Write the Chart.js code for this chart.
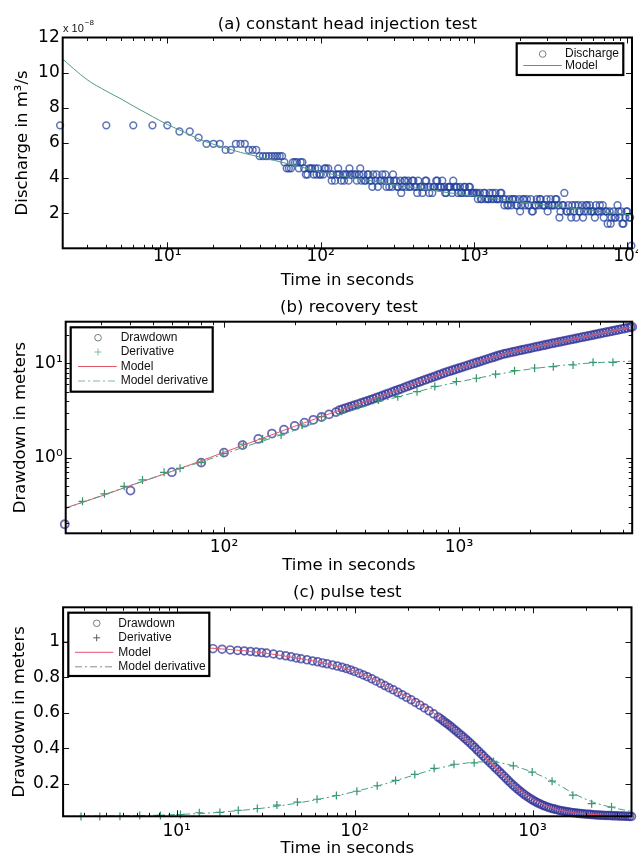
<!DOCTYPE html>
<html><head><meta charset="utf-8">
<script src="https://cdn.jsdelivr.net/npm/chart.js@4.4.0/dist/chart.umd.min.js"></script>
<style>
html,body{margin:0;padding:0;background:#fff;overflow:hidden;width:638px;height:858px}
canvas{position:absolute;left:0}
</style></head><body>
<canvas id="ca" width="638" height="292" style="top:0px"></canvas>
<canvas id="cb" width="638" height="283" style="top:292px"></canvas>
<canvas id="cc" width="638" height="283" style="top:575px"></canvas>
<script>
// ---------------- (a) constant head injection test ----------------
const aTime = [2,4,6,8,10,12,14,16,18,20,22,24,26,28,30,32,34,36,38,40,42,44,46,48,50,52,54,56,58,60,
 62,64,66,68,70,72,74,76,78,80,82,84,86,88,90,92,94,96,98,100,
 104,108,112,116,120,124,128,132,136,140,144,148,152,156,160,
 166,172,178,184,190,196,202,208,214,220,228,236,244,252,260,268,276,284,292,300,
 310,320,330,340,350,360,372,384,396,408,420,432,446,460,474,488,502,518,534,550,566,584,602,620,638,658,678,698,720,742,764,786,810,834,860,886,912,940,968,998,
 1028,1058,1090,1122,1156,1190,1226,1262,1300,1340,1380,1420,1462,1506,1552,
 1598,1646,1696,1746,1798,1852,1908,1966,2024,2084,2148,2212,2278,2346,2416,2488,2564,2640,2720,2800,2884,2970,3060,3152,3246,3344,3444,
 3548,3654,3764,3876,3992,4112,4236,4362,4494,4628,4766,4910,5056,5208,5364,5526,5692,5862,6038,6220,6406,6598,6796,
 7000,7210,7426,7650,7878,8114,8358,8610,8868,9134,9408,9690,9980,10290,10600];
const aDischarge = [7.0,7.0,7.0,7.0,7.0,6.65,6.65,6.3,5.95,5.95,5.95,5.6,5.6,5.95,5.95,5.95,5.6,5.6,5.6,5.25,5.25,5.25,5.25,5.25,5.25,5.25,5.25,5.25,4.9,4.55,
 4.55,4.55,4.9,4.9,4.9,4.55,4.9,4.9,4.55,4.2,4.2,4.55,4.55,4.55,4.2,4.55,4.2,4.55,4.2,4.2,
 4.2,4.55,4.55,4.2,4.2,3.85,4.2,4.2,3.85,4.2,4.2,4.2,3.85,4.2,4.2,
 4.2,3.85,4.2,3.85,4.2,3.85,4.2,3.85,3.85,4.2,3.85,3.5,3.85,4.2,3.85,3.5,3.85,3.85,3.5,3.85,
 3.85,3.5,3.85,3.5,3.85,3.5,3.85,3.5,3.85,3.5,3.5,3.85,3.5,3.15,3.5,3.85,3.5,3.5,3.15,3.5,3.85,3.5,3.5,3.85,3.5,3.15,3.5,3.5,3.15,3.5,3.5,3.15,3.5,3.15,3.5,3.15,3.15,3.5,3.15,3.15,
 3.15,2.8,3.15,2.8,3.15,2.8,2.8,3.15,2.8,2.8,3.15,2.8,2.8,3.15,2.8,
 2.8,2.45,2.8,2.45,2.8,2.8,2.45,2.8,2.45,2.8,2.45,2.8,2.45,2.8,2.1,2.45,2.8,2.45,2.8,2.45,2.45,2.8,2.45,2.8,2.45,2.45,2.8,
 2.45,2.1,2.45,3.15,2.1,2.45,2.1,2.45,2.1,1.75,2.45,2.1,2.45,2.1,2.45,2.1,2.45,2.1,2.1,2.45,2.1,2.45,2.1,
 1.75,2.1,1.4,2.1,1.75,2.1,1.75,2.45,1.75,2.1,1.4,1.75,2.1,1.75,0.15];
// further discharge samples lying between the ones above (t > 100 s)
const aTimeMore = [106,118,130,142,154,
 169,181,193,205,217,232,248,264,280,296,
 315,335,355,378,402,426,453,481,510,542,575,611,648,688,731,775,822,873,926,983,
 1043,1106,1173,1243,1320,1400,1484,1575,
 1671,1772,1880,1995,2116,2245,2381,2526,2680,2842,3015,3199,3394,
 3600,3820,4052,4298,4560,4838,5132,5445,5777,6128,6502,6898,
 7318,7764,8236,8738,9270,9834,10400];
const aDischargeMore = [4.55,3.85,4.55,3.85,4.55,
 4.2,4.55,3.85,4.2,3.5,4.2,3.85,4.2,3.5,4.2,
 3.5,3.15,3.85,3.5,3.85,3.15,3.5,3.85,3.15,3.5,3.85,3.5,3.15,3.5,3.85,3.5,3.15,3.5,3.5,3.15,
 3.15,2.8,3.15,2.8,3.15,2.8,3.15,2.45,
 2.45,2.8,2.45,2.1,2.8,2.45,2.1,2.45,2.8,2.45,2.1,2.45,2.8,
 1.75,2.45,2.1,1.75,2.45,2.1,1.75,2.45,2.1,1.75,2.1,2.45,
 2.1,1.4,1.75,2.1,1.4,2.1,1.75];
const aModelTime = [2,3,4,5,6,8,10,13,16,20,25,30,40,50,60,80,100,150,200,300,500,700,1000,1500,2000,3000,5000,7000,10700];
const aModel = [10.9,9.6,8.95,8.5,8.1,7.5,7.05,6.6,6.22,5.92,5.66,5.46,5.2,5.0,4.83,4.56,4.35,4.06,3.88,3.62,3.33,3.15,2.98,2.78,2.64,2.45,2.22,2.07,1.9];
const aXTickVals = [10,100,1000,10000];
const aXTickText = ['10\u00B9','10\u00B2','10\u00B3','10\u2074'];
const aYTickVals = [2,4,6,8,10,12];
const aYTickText = ['2','4','6','8','10','12'];

// ---------------- (b) recovery test ----------------
const bDrawTime = [21,40,60,80,100,120,140,160,180,200,220,240,260,280,
 300,310,320,330,340,350,360,372,384,396,408,420,432,446,460,474,488,502,518,534,
 550,566,584,602,620,638,658,678,698,720,742,764,786,810,834,860,886,912,940,968,
 998,1028,1058,1090,1122,1156,1190,1226,1262,1300,1340,1380,1420,1462,1506,1552,1598,1646,1696,1746,
 1798,1852,1908,1966,2024,2084,2148,2212,2278,2346,2416,2488,2564,2640,2720,2800,2884,2970,3060,3152,
 3246,3344,3444,3548,3654,3764,3876,3992,4112,4236,4362,4494,4628,4766,4910,5056,5208,5364,5460];
const bDraw = [0.196,0.446,0.70,0.885,1.13,1.36,1.58,1.8,1.98,2.17,2.35,2.52,2.7,2.88,
 3.05,3.19,3.27,3.36,3.44,3.53,3.61,3.71,3.81,3.91,4.01,4.11,4.21,4.33,4.44,4.57,4.69,4.82,4.96,5.10,
 5.24,5.38,5.54,5.70,5.86,6.02,6.19,6.37,6.54,6.73,6.91,7.09,7.27,7.47,7.67,7.88,8.09,8.28,8.48,8.69,
 8.90,9.11,9.33,9.55,9.78,10.01,10.25,10.49,10.74,11.0,11.27,11.53,11.80,12.08,12.37,12.63,12.84,13.05,13.26,13.47,
 13.69,13.91,14.14,14.37,14.60,14.83,15.08,15.32,15.56,15.81,16.07,16.33,16.58,16.84,17.10,17.35,17.62,17.89,18.16,18.44,
 18.73,19.02,19.31,19.60,19.90,20.21,20.52,20.83,21.15,21.48,21.80,22.14,22.48,22.82,23.18,23.53,23.89,24.25,24.48];
const bDerivTime = [25,31,37.6,45,55.6,65,80,99,121,146,175,215,260,317,372,454,549,663,789,975,1186,1432,1724,2098,2520,3058,3720,4520];
const bDeriv = [0.343,0.412,0.495,0.58,0.697,0.77,0.885,1.11,1.39,1.58,1.74,2.22,2.72,3.1,3.56,4.1,4.44,5.02,5.7,6.44,6.97,7.7,8.39,8.96,9.25,9.64,10.3,10.3];
const bModelTime = [21,25,30,40,50,60,80,100,150,200,300,400,600,800,1000,1500,2000,3000,4000,5460];
const bModel = [0.29,0.335,0.39,0.505,0.61,0.715,0.925,1.14,1.65,2.15,3.1,3.95,5.68,7.39,8.94,12.3,14.6,17.97,20.85,24.48];
const bModelDerivTime = [21,25,31,37.6,45,55.6,65,80,99,121,146,175,215,260,317,372,454,549,663,789,975,1186,1432,1724,2098,2520,3058,3720,4520,5460];
const bModelDeriv = [0.285,0.335,0.405,0.48,0.56,0.67,0.765,0.9,1.08,1.29,1.5,1.74,2.08,2.47,2.93,3.32,3.88,4.42,5.0,5.6,6.3,6.95,7.6,8.25,8.85,9.35,9.8,10.15,10.4,10.6];
const bXTickVals = [100,1000];
const bXTickText = ['10\u00B2','10\u00B3'];
const bYTickVals = [1,10];
const bYTickText = ['10\u2070','10\u00B9'];

// ---------------- (c) pulse test ----------------
const cDrawTime = [2,4,6,8,10,12,14,16,18,20,22,24,26,28,30,32,35,38,41,44,47,50,54,58,62,66,70,75,80,85,
 90,95,100,106,112,118,125,132,140,148,156,165,175,185,196,208,220,233,247,262,278,295,313,332,352,373,396,420,445,472,
 500,530,562,596,632,670,710,752,797,845,896,950,1007,1067,1131,1199,1271,1347,1428,1514,
 1605,1700,1800,1910,2025,2145,2275,2410,2555,2710,2870,3040,3225,3420,3600];
const cDraw = [1.0,0.99,0.985,0.98,0.975,0.97,0.965,0.96,0.957,0.953,0.95,0.947,0.944,0.941,0.938,0.935,0.93,0.925,0.92,0.914,0.908,0.903,0.897,0.891,0.886,0.88,0.875,0.868,0.862,0.855,
 0.848,0.84,0.832,0.822,0.812,0.802,0.79,0.778,0.765,0.752,0.74,0.728,0.714,0.70,0.686,0.672,0.657,0.642,0.626,0.61,0.593,0.575,0.556,0.537,0.517,0.496,0.474,0.452,0.43,0.405,
 0.38,0.355,0.33,0.305,0.28,0.255,0.23,0.205,0.182,0.16,0.14,0.122,0.106,0.092,0.08,0.07,0.062,0.055,0.049,0.044,
 0.04,0.036,0.033,0.03,0.028,0.026,0.024,0.022,0.021,0.02,0.019,0.018,0.017,0.016,0.015];
// further drawdown samples lying between the ones above (t > 300 s)
const cDrawTimeMore = [304,322,342,362,384,408,432,458,486,515,546,579,614,651,690,731,774,821,870,923,
 978,1037,1099,1165,1235,1309,1387,1471,1559,1652,1750,1855,1967,2085,2210,2342,2482,2632,2790,2955,3132,3322,3510];
const cDrawMore = [0.566,0.546,0.527,0.506,0.485,0.463,0.441,0.417,0.392,0.367,0.342,0.317,0.292,0.267,0.242,0.217,0.193,0.171,0.15,0.131,
 0.114,0.099,0.086,0.075,0.066,0.058,0.052,0.046,0.042,0.038,0.0345,0.0315,0.029,0.027,0.025,0.023,0.0215,0.0205,0.0195,0.0185,0.0175,0.0165,0.0155];
const cDerivTime = [2.9,3.7,4.8,6.2,8.1,10.5,13.4,17.5,22.2,28.4,36.6,47.7,61.5,79,103,134,170,218,280,362,470,604,780,996,1288,1685,2150,2780];
const cDeriv = [0.015,0.015,0.016,0.02,0.021,0.026,0.036,0.038,0.05,0.06,0.079,0.096,0.112,0.133,0.157,0.188,0.218,0.252,0.286,0.309,0.317,0.325,0.30,0.265,0.214,0.135,0.087,0.068];
const cModelTime = [2.2,5,10,20,30,50,70,100,130,160,200,250,300,350,400,450,500,560,620,700,800,900,1000,1200,1400,1700,2000,2500,3000,3600];
const cModel = [1.0,0.985,0.975,0.955,0.938,0.903,0.875,0.832,0.785,0.735,0.688,0.63,0.573,0.52,0.466,0.425,0.38,0.335,0.29,0.24,0.185,0.145,0.114,0.073,0.052,0.036,0.029,0.022,0.019,0.016];
const cModelDerivTime = [2.3,3,5,8,10,15,20,30,50,80,100,150,200,300,400,500,600,700,800,1000,1300,1700,2200,2800,3600];
const cModelDeriv = [0.016,0.017,0.019,0.022,0.026,0.034,0.044,0.061,0.094,0.133,0.155,0.2,0.238,0.288,0.312,0.322,0.322,0.312,0.297,0.265,0.212,0.145,0.095,0.066,0.043];
const cXTickVals = [10,100,1000];
const cXTickText = ['10\u00B9','10\u00B2','10\u00B3'];
const cYTickVals = [0.2,0.4,0.6,0.8,1];
const cYTickText = ['0.2','0.4','0.6','0.8','1'];

// ---------------- rendering ----------------
const FONT = '"DejaVu Sans", "Liberation Sans", Arial, sans-serif';
const LFONT = '"Liberation Sans", Arial, Helvetica, sans-serif';
const FS = 16.5, TS = 17;
Chart.defaults.font.family = FONT;
Chart.defaults.color = '#000';

const CIRCLE_A = 'rgba(32,62,155,0.72)';
const CIRCLE_B = 'rgba(48,48,150,0.72)';
const PLUS = '#35966a';
const RED = '#e2566c';
const GREEN_LINE = '#45a283';
const TEAL = '#4f9a88';

function pts(xs, ys) { return xs.map((x, i) => ({x: x, y: ys[i]})); }

function logMarks(min, max) {
  const out = [];
  for (let e = Math.floor(Math.log10(min)) - 1; e <= Math.ceil(Math.log10(max)); e++) {
    for (let m = 1; m <= 9; m++) {
      const v = m * Math.pow(10, e);
      if (v > min * 1.0001 && v < max * 0.9999) out.push({v: v, major: m === 1});
    }
  }
  return out;
}

const framePlugin = {
  id: 'frame',
  afterDraw(chart, args, o) {
    const ctx = chart.ctx, a = chart.chartArea, xs = chart.scales.x, ys = chart.scales.y;
    ctx.save();
    ctx.strokeStyle = '#111';
    ctx.lineWidth = 1;
    const xm = o.xLog ? logMarks(xs.min, xs.max) : o.xMarks.map(v => ({v: v, major: true}));
    const ym = o.yLog ? logMarks(ys.min, ys.max) : o.yMarks.map(v => ({v: v, major: true}));
    ctx.beginPath();
    for (const t of xm) {
      const p = Math.round(xs.getPixelForValue(t.v)) + 0.5, L = t.major ? 6 : 3.5;
      ctx.moveTo(p, a.bottom); ctx.lineTo(p, a.bottom - L);
      ctx.moveTo(p, a.top); ctx.lineTo(p, a.top + L);
    }
    for (const t of ym) {
      const p = Math.round(ys.getPixelForValue(t.v)) + 0.5, L = t.major ? 6 : 3.5;
      ctx.moveTo(a.left, p); ctx.lineTo(a.left + L, p);
      ctx.moveTo(a.right, p); ctx.lineTo(a.right - L, p);
    }
    ctx.stroke();
    ctx.lineWidth = 2;
    ctx.strokeStyle = '#000';
    ctx.strokeRect(a.left, a.top, a.right - a.left, a.bottom - a.top);
    if (o.extra) o.extra(ctx, a);
    ctx.restore();
  }
};

const boxLegendPlugin = {
  id: 'boxLegend',
  afterDraw(chart, args, o) {
    const ctx = chart.ctx;
    ctx.save();
    ctx.fillStyle = '#fff';
    ctx.fillRect(o.x, o.y, o.w, o.h);
    ctx.lineWidth = 2.2;
    ctx.strokeStyle = '#000';
    ctx.strokeRect(o.x, o.y, o.w, o.h);
    ctx.font = '12px ' + LFONT;
    ctx.textAlign = 'left';
    ctx.textBaseline = 'middle';
    for (const r of o.rows) {
      ctx.lineWidth = 1;
      ctx.strokeStyle = r.color;
      ctx.setLineDash(r.dash || []);
      ctx.beginPath();
      if (r.kind === 'circle') {
        ctx.arc(o.mx, r.y, 3.3, 0, Math.PI * 2);
      } else if (r.kind === 'plus') {
        ctx.moveTo(o.mx - 3.5, r.y); ctx.lineTo(o.mx + 3.5, r.y);
        ctx.moveTo(o.mx, r.y - 3.5); ctx.lineTo(o.mx, r.y + 3.5);
      } else {
        ctx.moveTo(o.lx1, r.y); ctx.lineTo(o.lx2, r.y);
      }
      ctx.stroke();
      ctx.setLineDash([]);
      ctx.fillStyle = '#111';
      ctx.fillText(r.label, o.tx, r.y);
    }
    ctx.restore();
  }
};

function axisFont(size) { return {size: size, family: FONT, lineHeight: 1, weight: 'normal'}; }

function makePanel(id, p) {
  const cv = document.getElementById(id);
  const W = cv.width, H = cv.height;
  const scaleCfg = (s, horizontal) => ({
    type: s.type, min: s.min, max: s.max,
    position: horizontal ? 'bottom' : 'left',
    grid: {display: false, drawTicks: false},
    border: {display: false},
    ticks: {
      font: axisFont(TS), color: '#000', padding: s.labelPad, autoSkip: false, maxRotation: 0, minRotation: 0,
      callback: (v) => { const i = s.tickVals.indexOf(v); return i >= 0 ? s.tickText[i] : ''; }
    },
    afterBuildTicks: (sc) => { sc.ticks = s.tickVals.map(v => ({value: v})); },
    afterFit: (sc) => {
      if (horizontal) { sc.height = H - p.area.b; sc.paddingLeft = 0; sc.paddingRight = 0; }
      else { sc.width = p.area.l; sc.paddingTop = 0; sc.paddingBottom = 0; }
    },
    title: {display: true, text: s.title, color: '#000', font: axisFont(FS),
      padding: horizontal ? {top: 0, bottom: s.titlePad} : {top: s.titlePad, bottom: 0}}
  });
  return new Chart(cv, {
    type: 'scatter',
    data: {datasets: p.datasets},
    options: {
      responsive: false, animation: false, devicePixelRatio: 1, events: [],
      layout: {padding: {left: 0, top: 0, bottom: 0, right: W - p.area.r}},
      scales: {x: scaleCfg(p.x, true), y: scaleCfg(p.y, false)},
      plugins: {
        legend: {display: false}, tooltip: {enabled: false},
        title: {display: true, text: p.title, color: '#000', fullSize: false, font: axisFont(FS),
          padding: {top: p.titlePad[0], bottom: p.titlePad[1]}},
        frame: p.frame,
        boxLegend: p.legend
      }
    },
    plugins: [framePlugin, boxLegendPlugin]
  });
}

function markerSet(label, data, style, color, radius, width, order) {
  return {label: label, data: data, showLine: false, pointStyle: style, pointRadius: radius,
    pointBorderWidth: width, pointBorderColor: color, pointBackgroundColor: 'rgba(0,0,0,0)', clip: false, order: order};
}
function lineSet(label, data, color, dash, order) {
  return {label: label, data: data, showLine: true, pointRadius: 0, borderColor: color, borderWidth: 1,
    borderDash: dash || [], cubicInterpolationMode: 'monotone', fill: false, order: order};
}

// panel (a)
makePanel('ca', {
  title: '(a) constant head injection test', titlePad: [16.75, 4.25],
  area: {l: 62.7, r: 632, t: 37.5, b: 248.3},
  x: {type: 'logarithmic', min: 2.08, max: 10700, tickVals: aXTickVals, tickText: aXTickText, labelPad: 0, title: 'Time in seconds', titlePad: 2.75},
  y: {type: 'linear', min: 0, max: 12, tickVals: aYTickVals, tickText: aYTickText, labelPad: 3, title: 'Discharge in m\u00B3/s', titlePad: 14.75},
  datasets: [
    lineSet('Model', pts(aModelTime, aModel), TEAL, null, 0),
    markerSet('Discharge', pts(aTime, aDischarge).concat(pts(aTimeMore, aDischargeMore)), 'circle', CIRCLE_A, 3.4, 1.5, 1)
  ],
  frame: {xLog: true, yLog: false, yMarks: [2, 4, 6, 8, 10],
    extra: (ctx, a) => {
      ctx.fillStyle = '#111';
      ctx.textBaseline = 'middle'; ctx.textAlign = 'left';
      ctx.font = '11px ' + LFONT;
      ctx.fillText('x 10', 63, 28.5);
      const w = ctx.measureText('x 10').width;
      ctx.font = '8px ' + LFONT;
      ctx.fillText('\u22128', 63 + w + 1, 23);
    }},
  legend: {x: 516.7, y: 43.3, w: 106.6, h: 31.7, mx: 542.7, lx1: 523.3, lx2: 561.7, tx: 565,
    rows: [
      {y: 54, label: 'Discharge', kind: 'circle', color: '#7a7f8c'},
      {y: 65.5, label: 'Model', kind: 'line', color: TEAL}
    ]}
});

// panel (b)
makePanel('cb', {
  title: '(b) recovery test', titlePad: [7.25, 5.95],
  area: {l: 65.7, r: 632.7, t: 29.7, b: 241.3},
  x: {type: 'logarithmic', min: 21.2, max: 5460, tickVals: bXTickVals, tickText: bXTickText, labelPad: 6, title: 'Time in seconds', titlePad: 1.25},
  y: {type: 'logarithmic', min: 0.157, max: 27.8, tickVals: bYTickVals, tickText: bYTickText, labelPad: 3, title: 'Drawdown in meters', titlePad: 12.75},
  datasets: [
    lineSet('Model derivative', pts(bModelDerivTime, bModelDeriv), GREEN_LINE, [7, 3, 2, 3], 0),
    lineSet('Model', pts(bModelTime, bModel), RED, null, 1),
    markerSet('Derivative', pts(bDerivTime, bDeriv), 'cross', PLUS, 4, 1.2, 2),
    markerSet('Drawdown', pts(bDrawTime, bDraw), 'circle', CIRCLE_B, 4, 1.8, 3)
  ],
  frame: {xLog: true, yLog: true},
  legend: {x: 70.7, y: 35.3, w: 142, h: 64.4, mx: 98, lx1: 78, lx2: 116.7, tx: 120.7,
    rows: [
      {y: 45.7, label: 'Drawdown', kind: 'circle', color: '#7a7a8a'},
      {y: 60, label: 'Derivative', kind: 'plus', color: '#7cc09e'},
      {y: 74.5, label: 'Model', kind: 'line', color: RED},
      {y: 89, label: 'Model derivative', kind: 'line', color: '#7cbca4', dash: [7, 3, 2, 3]}
    ]}
});

// panel (c)
makePanel('cc', {
  title: '(c) pulse test', titlePad: [9.25, 6.55],
  area: {l: 63.1, r: 631.5, t: 32.3, b: 241.3},
  x: {type: 'logarithmic', min: 2.3, max: 3600, tickVals: cXTickVals, tickText: cXTickText, labelPad: 7, title: 'Time in seconds', titlePad: 0.75},
  y: {type: 'linear', min: 0.016, max: 1.193, tickVals: cYTickVals, tickText: cYTickText, labelPad: 3, title: 'Drawdown in meters', titlePad: 11.75},
  datasets: [
    lineSet('Model derivative', pts(cModelDerivTime, cModelDeriv), GREEN_LINE, [7, 3, 2, 3], 0),
    lineSet('Model', pts(cModelTime, cModel), RED, null, 1),
    markerSet('Derivative', pts(cDerivTime, cDeriv), 'cross', PLUS, 4, 1.2, 2),
    markerSet('Drawdown', pts(cDrawTime, cDraw).concat(pts(cDrawTimeMore, cDrawMore)), 'circle', CIRCLE_B, 3.9, 1.7, 3)
  ],
  frame: {xLog: true, yLog: false, yMarks: [0.2, 0.4, 0.6, 0.8, 1]},
  legend: {x: 68.3, y: 37.7, w: 141, h: 63.3, mx: 96.7, lx1: 75, lx2: 113.3, tx: 118.3,
    rows: [
      {y: 48.3, label: 'Drawdown', kind: 'circle', color: '#7a7a8a'},
      {y: 62.8, label: 'Derivative', kind: 'plus', color: '#5a5a5a'},
      {y: 77.3, label: 'Model', kind: 'line', color: RED},
      {y: 91.8, label: 'Model derivative', kind: 'line', color: '#8a8a8a', dash: [7, 3, 2, 3]}
    ]}
});
</script>
</body></html>
